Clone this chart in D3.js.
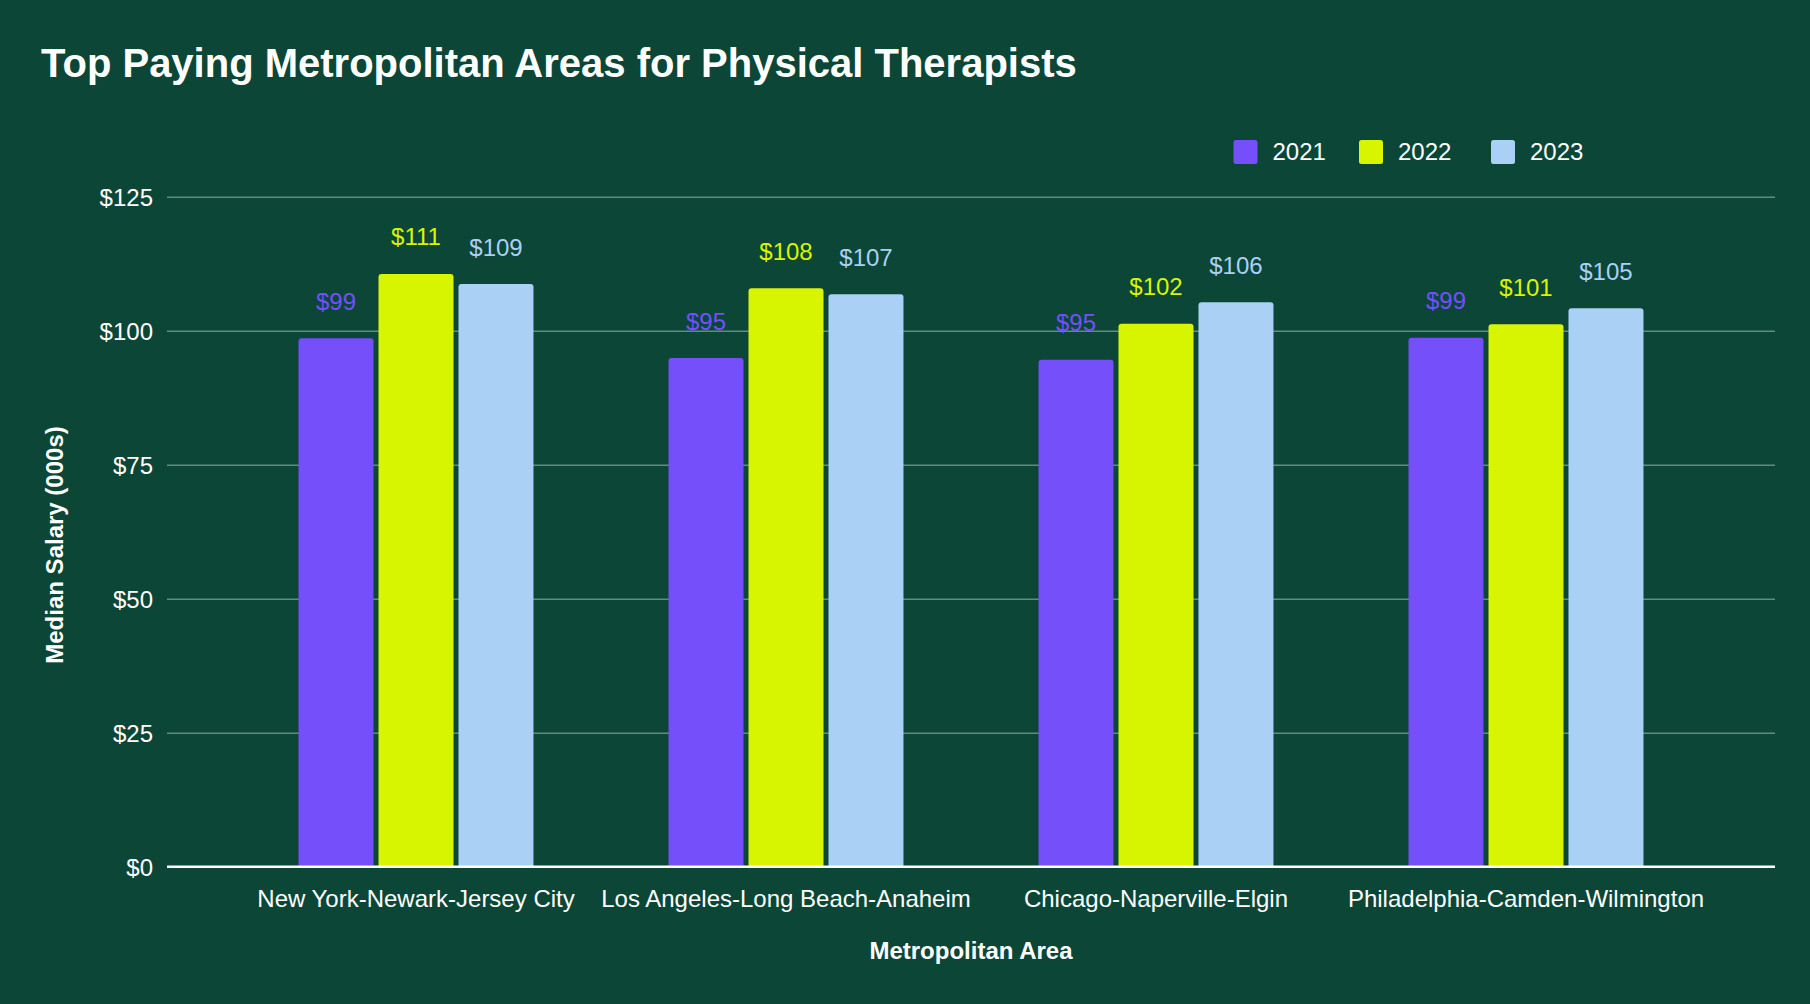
<!DOCTYPE html>
<html>
<head>
<meta charset="utf-8">
<script src="https://cdn.jsdelivr.net/npm/d3@7"></script>
<style>
  html, body { margin: 0; padding: 0; background: #0c4637; }
  svg { display: block; }
  text { font-family: "Liberation Sans", Arial, Helvetica, sans-serif; }
</style>
</head>
<body>
<svg id="chart" width="1810" height="1004"></svg>
<script>
const categories = [
  "New York-Newark-Jersey City",
  "Los Angeles-Long Beach-Anaheim",
  "Chicago-Naperville-Elgin",
  "Philadelphia-Camden-Wilmington"
];
const years = ["2021", "2022", "2023"];
const values2021 = [98.6, 94.9, 94.6, 98.7];
const values2022 = [110.6, 107.9, 101.3, 101.2];
const values2023 = [108.7, 106.8, 105.3, 104.2];
const yTicks = [0, 25, 50, 75, 100, 125];
const labels2021 = ["$99", "$95", "$95", "$99"];
const labels2022 = ["$111", "$108", "$102", "$101"];
const labels2023 = ["$109", "$107", "$106", "$105"];
const colors = ["#744ffa", "#d8f500", "#abd0f5"];

const series = [values2021, values2022, values2023];
const seriesLabels = [labels2021, labels2022, labels2023];

const W = 1810, H = 1004;
const plot = { left: 167, right: 1775, top: 196.7, bottom: 866.7 };
const svg = d3.select("#chart");

svg.append("rect").attr("width", W).attr("height", H).attr("fill", "#0c4637");

const y = d3.scaleLinear().domain([0, 125]).range([plot.bottom, plot.top]);
const x0 = d3.scaleBand().domain(categories).range([plot.left, plot.right])
  .paddingInner(0.365).paddingOuter(0.3555);
const x1 = d3.scaleBand().domain(years).range([0, x0.bandwidth()])
  .paddingInner(0.0625).paddingOuter(0);

// Gridlines + y axis labels
const yAxis = d3.axisLeft(y).tickValues(yTicks).tickSize(-(plot.right - plot.left))
  .tickPadding(14).tickFormat(d => "$" + d);
const gy = svg.append("g").attr("transform", `translate(${plot.left},0)`).call(yAxis);
gy.select(".domain").remove();
gy.selectAll(".tick line").attr("stroke", "#5f8c80").attr("stroke-width", 1.5)
  .filter(d => d === 0).attr("stroke", "none");
gy.selectAll(".tick text").attr("fill", "#ffffff").attr("font-size", 24)
  .attr("font-family", "Liberation Sans, Arial, sans-serif").attr("dy", "0.35em");

// Bars with rounded top corners
function topRounded(xp, yp, w, h, r) {
  r = Math.min(r, h, w / 2);
  return `M${xp},${yp + h}V${yp + r}Q${xp},${yp} ${xp + r},${yp}H${xp + w - r}Q${xp + w},${yp} ${xp + w},${yp + r}V${yp + h}Z`;
}

const groups = svg.append("g").selectAll("g").data(categories).join("g")
  .attr("transform", d => `translate(${x0(d)},0)`);

groups.each(function (cat, ci) {
  const g = d3.select(this);
  years.forEach((yr, si) => {
    const v = series[si][ci];
    const bx = x1(yr), bw = x1.bandwidth();
    g.append("path")
      .attr("d", topRounded(bx, y(v), bw, y(0) - y(v), 3))
      .attr("fill", colors[si]);
    g.append("text")
      .attr("x", bx + bw / 2)
      .attr("y", y(v) - 28.5)
      .attr("text-anchor", "middle")
      .attr("font-size", 24)
      .attr("fill", colors[si])
      .text(seriesLabels[si][ci]);
  });
});

// Zero baseline
svg.append("line").attr("x1", plot.left).attr("x2", plot.right)
  .attr("y1", y(0)).attr("y2", y(0)).attr("stroke", "#ffffff").attr("stroke-width", 2.5);

// X axis labels
const xAxis = d3.axisBottom(x0).tickSize(0).tickPadding(23);
const gx = svg.append("g").attr("transform", `translate(0,${y(0)})`).call(xAxis);
gx.select(".domain").remove();
gx.selectAll(".tick text").attr("fill", "#ffffff").attr("font-size", 24)
  .attr("font-family", "Liberation Sans, Arial, sans-serif");

// Title
svg.append("text").attr("x", 41).attr("y", 77)
  .attr("font-size", 40).attr("font-weight", "bold").attr("fill", "#ffffff")
  .text("Top Paying Metropolitan Areas for Physical Therapists");

// Axis titles
svg.append("text").attr("x", (plot.left + plot.right) / 2).attr("y", 959)
  .attr("text-anchor", "middle").attr("font-size", 24).attr("font-weight", "bold")
  .attr("fill", "#ffffff").text("Metropolitan Area");
svg.append("text").attr("transform", "translate(63,545) rotate(-90)")
  .attr("text-anchor", "middle").attr("font-size", 24).attr("font-weight", "bold")
  .attr("fill", "#ffffff").text("Median Salary (000s)");

// Legend
const legendX = [1233.5, 1359, 1491];
const legend = svg.append("g");
years.forEach((yr, i) => {
  legend.append("rect").attr("x", legendX[i]).attr("y", 140).attr("width", 24).attr("height", 24)
    .attr("rx", 2.5).attr("fill", colors[i]);
  legend.append("text").attr("x", legendX[i] + 39).attr("y", 160)
    .attr("font-size", 24).attr("fill", "#ffffff").text(yr);
});
</script>
</body>
</html>
